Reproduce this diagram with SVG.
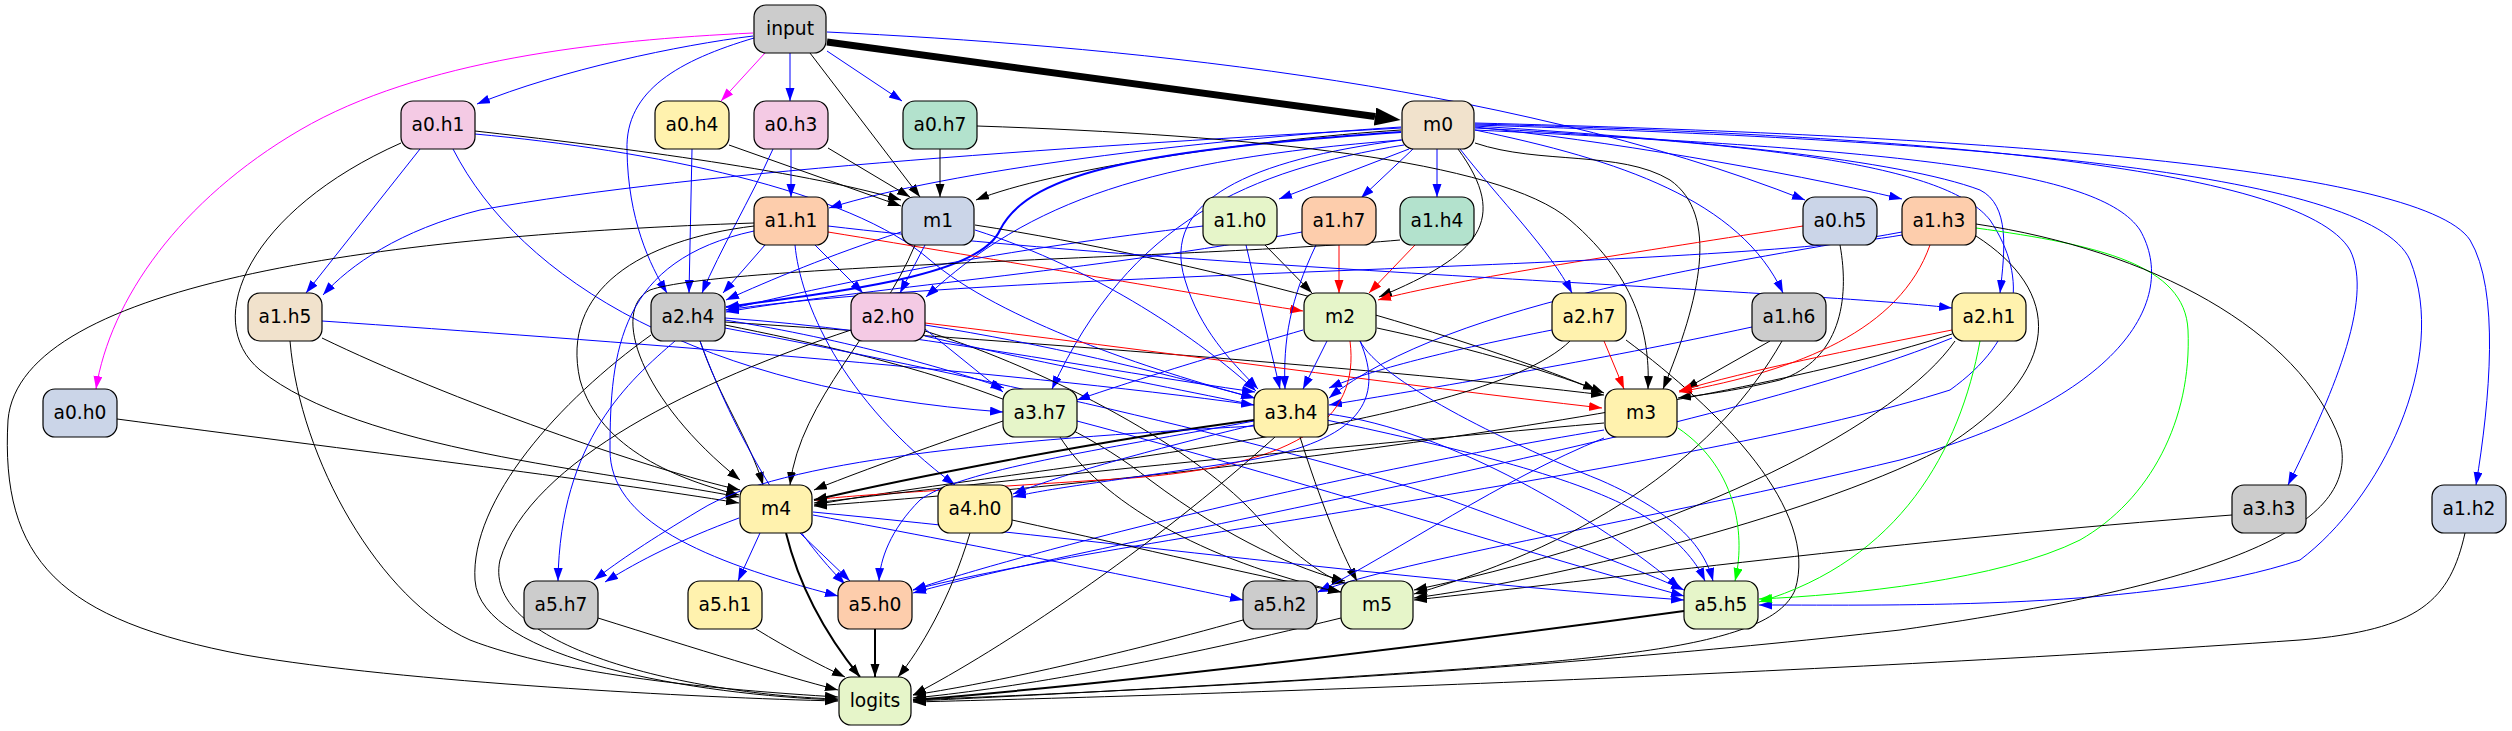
<svg xmlns="http://www.w3.org/2000/svg" width="2512" height="731" viewBox="0 0 2512 731">
<defs>
<marker id="mk" markerUnits="userSpaceOnUse" markerWidth="14" markerHeight="10" refX="13" refY="4.5" orient="auto"><path d="M0,0 L13,4.5 L0,9 z" fill="#000"/></marker>
<marker id="mb" markerUnits="userSpaceOnUse" markerWidth="14" markerHeight="10" refX="13" refY="4.5" orient="auto"><path d="M0,0 L13,4.5 L0,9 z" fill="#0000ff"/></marker>
<marker id="mr" markerUnits="userSpaceOnUse" markerWidth="14" markerHeight="10" refX="13" refY="4.5" orient="auto"><path d="M0,0 L13,4.5 L0,9 z" fill="#ff0000"/></marker>
<marker id="mg" markerUnits="userSpaceOnUse" markerWidth="14" markerHeight="10" refX="13" refY="4.5" orient="auto"><path d="M0,0 L13,4.5 L0,9 z" fill="#00ff00"/></marker>
<marker id="mm" markerUnits="userSpaceOnUse" markerWidth="14" markerHeight="10" refX="13" refY="4.5" orient="auto"><path d="M0,0 L13,4.5 L0,9 z" fill="#ff00ff"/></marker>
<marker id="mbig" markerUnits="userSpaceOnUse" markerWidth="28" markerHeight="20" refX="0" refY="9" orient="auto"><path d="M0,0 L26,9 L0,18 z" fill="#000"/></marker>
</defs>
<style>
.node rect{stroke:#000;stroke-width:1.2}
.node text{font-family:"DejaVu Sans","Liberation Sans",sans-serif;font-size:18.67px;text-anchor:middle;fill:#000}
#edges path{fill:none;stroke-width:1}
#edges .k{stroke:#000;marker-end:url(#mk)}
#edges .b{stroke:#0000ff;marker-end:url(#mb)}
#edges .r{stroke:#ff0000;marker-end:url(#mr)}
#edges .g{stroke:#00ff00;marker-end:url(#mg)}
#edges .m{stroke:#ff00ff;marker-end:url(#mm)}
#edges .w2{stroke-width:2}
#edges .big{stroke:#000;stroke-width:7;marker-end:url(#mbig)}
</style>
<rect width="2512" height="731" fill="#fff"/>
<g id="edges">
<path class="big" d="M827,42 L1375,116.5"/>
<path class="b" d="M753,36 C680,45 560,70 477,104"/>
<path class="m" d="M753,33 C600,40 420,60 300,130 C180,200 110,300 96,389"/>
<path class="m" d="M765,53 L721,101"/>
<path class="b" d="M790,53 L790,101"/>
<path class="b" d="M827,51 L902,101"/>
<path class="k" d="M810,53 L920,197"/>
<path class="b" d="M754,38 C680,60 625,90 627,150 C628,220 650,265 667,293"/>
<path class="b" d="M827,32 C1100,45 1500,80 1805,200"/>
<path class="k" d="M1401,130 C1250,140 1050,170 976,200"/>
<path class="b" d="M1401,127 C1200,140 950,170 829,208"/>
<path class="b" d="M1409,149 L1279,199"/>
<path class="b" d="M1413,149 L1361,198"/>
<path class="b" d="M1437,149 L1437,197"/>
<path class="b" d="M1475,127 C1600,140 1780,170 1902,199"/>
<path class="b" d="M1475,130 C1620,160 1740,200 1783,293"/>
<path class="b" d="M1460,149 C1500,200 1550,250 1572,293"/>
<path class="k" d="M1458,149 C1510,220 1480,255 1379,297"/>
<path class="k" d="M1475,143 C1540,165 1620,150 1670,180 C1720,215 1700,300 1663,389"/>
<path class="b" d="M1475,126 C1700,140 1900,160 1980,190 C2010,205 2005,250 2000,293"/>
<path class="b" d="M1401,128 C1100,145 700,170 480,210 C400,230 350,265 323,295"/>
<path class="b w2" d="M1401,132 C1150,150 1030,170 1000,230 C980,275 850,290 726,307"/>
<path class="b" d="M1401,140 C1150,160 1030,200 926,297"/>
<path class="b" d="M1404,145 C1250,170 1130,220 1052,389"/>
<path class="b" d="M1402,140 C1250,160 1160,200 1185,280 C1200,330 1230,360 1258,389"/>
<path class="b" d="M1475,124 C1900,135 2300,165 2350,250 C2375,300 2330,400 2288,485"/>
<path class="b" d="M1475,123 C1950,135 2420,165 2470,240 C2500,290 2490,400 2476,485"/>
<path class="b" d="M1475,125 C1950,140 2370,170 2410,260 C2450,360 2380,500 2300,560 C2150,610 1900,605 1759,605"/>
<path class="b" d="M1475,128 C1800,145 1950,170 1990,220 C2030,280 2020,340 1950,390 C1700,470 1100,540 913,590"/>
<path class="b" d="M1475,130 C1900,150 2100,170 2140,230 C2180,300 2120,400 1900,460 C1650,520 1400,560 1318,592"/>
<path class="k" d="M475,131 C600,145 800,170 901,200"/>
<path class="b" d="M475,134 C650,150 850,190 930,260 C1000,320 1150,370 1254,398"/>
<path class="b" d="M420,149 L306,293"/>
<path class="k" d="M401,143 C250,210 200,320 260,370 C360,450 600,470 739,497"/>
<path class="b" d="M453,149 C520,280 700,390 1003,412"/>
<path class="k" d="M729,145 L901,206"/>
<path class="b" d="M692,149 L689,293"/>
<path class="k" d="M828,148 L910,197"/>
<path class="b" d="M791,149 L791,197"/>
<path class="b" d="M773,149 C750,200 720,250 702,293"/>
<path class="k" d="M940,149 L940,197"/>
<path class="k" d="M977,126 C1250,135 1500,160 1570,220 C1640,280 1650,340 1648,389"/>
<path class="k" d="M117,419 C350,450 600,480 739,503"/>
<path class="r" d="M1803,226 C1650,250 1450,280 1378,300"/>
<path class="k" d="M1840,245 C1850,300 1840,360 1780,380 C1730,392 1700,395 1678,398"/>
<path class="r" d="M828,232 C1000,260 1200,295 1303,311"/>
<path class="b" d="M765,245 L723,293"/>
<path class="b" d="M815,245 L863,293"/>
<path class="b" d="M795,245 C800,300 840,400 955,485"/>
<path class="k" d="M754,226 C640,240 560,290 580,380 C600,450 680,480 739,495"/>
<path class="k" d="M754,223 C400,235 20,280 8,420 C0,560 60,620 245,655 C400,682 700,698 838,701"/>
<path class="k" d="M1265,245 L1312,293"/>
<path class="b" d="M1246,245 L1280,389"/>
<path class="b" d="M1203,226 C1000,250 850,280 726,310"/>
<path class="r" d="M1339,245 L1339,293"/>
<path class="b" d="M1316,245 C1290,300 1283,340 1285,389"/>
<path class="r" d="M1415,245 L1369,293"/>
<path class="k" d="M1400,240 C1200,258 720,265 650,290 C610,310 640,400 740,480"/>
<path class="b" d="M1902,235 C1700,270 1000,270 726,310"/>
<path class="b" d="M1902,232 C1750,260 1450,300 1329,398"/>
<path class="r" d="M1930,245 C1900,330 1800,370 1679,392"/>
<path class="g" d="M1976,228 C2100,245 2185,265 2188,330 C2192,420 2150,500 2080,540 C2000,580 1850,595 1759,599"/>
<path class="k" d="M1976,224 C2150,250 2300,330 2340,440 C2360,520 2250,580 1900,630 C1500,675 1100,692 913,700"/>
<path class="k" d="M1976,236 C2060,290 2070,370 1940,450 C1800,520 1550,580 1414,598"/>
<path class="k" d="M1770,341 L1685,389"/>
<path class="k" d="M1782,341 C1720,450 1600,540 1414,594"/>
<path class="b" d="M1752,327 C1600,360 1420,390 1329,405"/>
<path class="k" d="M322,338 C450,400 650,470 740,490"/>
<path class="k" d="M290,341 C300,460 380,600 470,640 C560,675 720,690 838,697"/>
<path class="b" d="M322,321 C600,340 1000,370 1254,405"/>
<path class="k" d="M975,225 C1200,260 1450,330 1596,390"/>
<path class="b" d="M901,232 C830,255 770,280 726,300"/>
<path class="b" d="M925,245 L900,293"/>
<path class="k" d="M915,245 C880,330 800,400 790,485"/>
<path class="b" d="M975,230 C1100,270 1200,340 1256,391"/>
<path class="b" d="M1302,232 C1100,270 850,290 726,312"/>
<path class="k" d="M700,341 C720,400 750,440 763,485"/>
<path class="k" d="M725,322 C1000,340 1400,370 1604,395"/>
<path class="k" d="M651,335 C560,400 470,500 475,580 C480,660 700,695 838,700"/>
<path class="k" d="M725,325 C900,360 1050,400 1150,480 C1230,540 1300,570 1345,581"/>
<path class="b" d="M725,320 C850,340 950,370 1004,388"/>
<path class="b" d="M725,318 C900,330 1100,370 1255,392"/>
<path class="b" d="M675,341 C630,380 560,440 558,581"/>
<path class="b" d="M700,341 C740,450 800,540 845,584"/>
<path class="b" d="M725,328 C1000,380 1300,450 1450,500 C1560,540 1640,570 1684,590"/>
<path class="r" d="M925,323 C1150,350 1400,385 1602,408"/>
<path class="k" d="M851,330 C700,380 530,460 500,560 C480,650 700,695 838,699"/>
<path class="k" d="M925,331 C1050,370 1200,450 1260,520 C1300,560 1330,580 1345,583"/>
<path class="b" d="M925,329 L1003,392"/>
<path class="b" d="M925,325 C1050,345 1150,370 1255,398"/>
<path class="b" d="M925,336 C1200,400 1550,450 1650,520 C1690,550 1700,570 1705,581"/>
<path class="r" d="M1604,341 L1624,389"/>
<path class="b" d="M1552,330 C1450,350 1370,370 1329,388"/>
<path class="k" d="M1570,341 C1480,430 1000,470 814,505"/>
<path class="k" d="M1626,340 C1720,410 1820,510 1795,590 C1770,650 1600,660 1300,680 C1100,692 980,698 913,701"/>
<path class="r" d="M1952,330 C1850,350 1750,370 1679,391"/>
<path class="k" d="M1952,334 C1750,400 1300,470 814,506"/>
<path class="k" d="M1955,341 C1900,420 1700,530 1414,590"/>
<path class="g" d="M1980,341 C1960,450 1900,560 1759,602"/>
<path class="b" d="M1952,338 C1700,440 1100,540 913,593"/>
<path class="b" d="M828,226 C1200,270 1800,290 1952,308"/>
<path class="b" d="M754,231 C620,260 610,350 610,450 C610,520 700,560 838,596"/>
<path class="b" d="M1303,330 C1200,360 1120,385 1077,400"/>
<path class="b" d="M1327,341 L1303,389"/>
<path class="k" d="M1377,328 C1480,350 1560,375 1604,393"/>
<path class="r" d="M1350,341 C1360,420 1300,470 1100,480 C950,490 850,495 814,500"/>
<path class="b" d="M1360,341 C1380,380 1500,440 1600,480 C1680,515 1705,550 1713,581"/>
<path class="b" d="M1360,341 C1385,400 1360,440 1250,460 C1120,480 1050,488 1013,497"/>
<path class="k" d="M1003,421 C920,450 850,475 814,490"/>
<path class="k" d="M1060,437 C1100,500 1200,560 1341,592"/>
<path class="b" d="M1077,421 C1300,480 1550,560 1684,596"/>
<path class="k w2" d="M1254,420 C1100,440 900,480 814,500"/>
<path class="k" d="M1275,437 C1150,550 1000,650 913,695"/>
<path class="k" d="M1300,437 C1320,500 1340,550 1357,581"/>
<path class="b" d="M1254,425 C1150,450 1060,475 1013,494"/>
<path class="b" d="M1254,421 C1100,450 960,470 920,500 C890,530 880,560 879,581"/>
<path class="b" d="M1254,426 C1000,440 780,460 700,510 C650,540 620,560 594,580"/>
<path class="b" d="M1328,414 C1450,430 1600,520 1680,588"/>
<path class="g" d="M1678,428 C1740,470 1745,540 1735,581"/>
<path class="k" d="M1604,423 C1300,450 1000,480 814,503"/>
<path class="b" d="M1604,430 C1300,480 1000,560 913,590"/>
<path class="b" d="M1604,438 C1500,480 1400,550 1318,592"/>
<path class="k" d="M2232,515 C1900,540 1600,580 1414,600"/>
<path class="k" d="M2465,533 C2450,600 2420,630 2300,640 C1800,675 1200,695 913,702"/>
<path class="k w2" d="M786,533 C800,590 830,640 860,677"/>
<path class="b" d="M739,518 C680,540 640,560 605,582"/>
<path class="b" d="M760,533 L738,581"/>
<path class="b" d="M800,533 L850,581"/>
<path class="b" d="M813,515 C1000,550 1150,580 1243,600"/>
<path class="b" d="M813,512 C1100,540 1400,580 1684,600"/>
<path class="k" d="M970,533 C950,600 920,650 898,677"/>
<path class="k" d="M1012,520 C1150,550 1250,575 1341,592"/>
<path class="k" d="M598,618 C700,650 780,675 838,690"/>
<path class="k" d="M756,629 C790,650 820,665 845,677"/>
<path class="k w2" d="M875,629 L875,677"/>
<path class="k" d="M1243,620 C1100,660 980,685 913,695"/>
<path class="k" d="M1341,618 C1150,665 1000,690 913,698"/>
<path class="k w2" d="M1684,611 C1400,650 1100,685 913,700"/>
</g>
<g id="n-input" class="node"><rect x="754" y="5" width="72" height="48" rx="12" fill="#cccccc"/><text x="790" y="35">input</text></g>
<g id="n-a0h1" class="node"><rect x="401" y="101" width="74" height="48" rx="12" fill="#f4cae4"/><text x="438" y="131">a0.h1</text></g>
<g id="n-a0h4" class="node"><rect x="655" y="101" width="74" height="48" rx="12" fill="#fff2ae"/><text x="692" y="131">a0.h4</text></g>
<g id="n-a0h3" class="node"><rect x="754" y="101" width="74" height="48" rx="12" fill="#f4cae4"/><text x="791" y="131">a0.h3</text></g>
<g id="n-a0h7" class="node"><rect x="903" y="101" width="74" height="48" rx="12" fill="#b3e2cd"/><text x="940" y="131">a0.h7</text></g>
<g id="n-m0" class="node"><rect x="1402" y="101" width="72" height="48" rx="12" fill="#f1e2cc"/><text x="1438" y="131">m0</text></g>
<g id="n-a1h1" class="node"><rect x="754" y="197" width="74" height="48" rx="12" fill="#fdcdac"/><text x="791" y="227">a1.h1</text></g>
<g id="n-m1" class="node"><rect x="902" y="197" width="72" height="48" rx="12" fill="#cbd5e8"/><text x="938" y="227">m1</text></g>
<g id="n-a1h0" class="node"><rect x="1203" y="197" width="74" height="48" rx="12" fill="#e6f5c9"/><text x="1240" y="227">a1.h0</text></g>
<g id="n-a1h7" class="node"><rect x="1302" y="197" width="74" height="48" rx="12" fill="#fdcdac"/><text x="1339" y="227">a1.h7</text></g>
<g id="n-a1h4" class="node"><rect x="1400" y="197" width="74" height="48" rx="12" fill="#b3e2cd"/><text x="1437" y="227">a1.h4</text></g>
<g id="n-a0h5" class="node"><rect x="1803" y="197" width="74" height="48" rx="12" fill="#cbd5e8"/><text x="1840" y="227">a0.h5</text></g>
<g id="n-a1h3" class="node"><rect x="1902" y="197" width="74" height="48" rx="12" fill="#fdcdac"/><text x="1939" y="227">a1.h3</text></g>
<g id="n-a1h5" class="node"><rect x="248" y="293" width="74" height="48" rx="12" fill="#f1e2cc"/><text x="285" y="323">a1.h5</text></g>
<g id="n-a2h4" class="node"><rect x="651" y="293" width="74" height="48" rx="12" fill="#cccccc"/><text x="688" y="323">a2.h4</text></g>
<g id="n-a2h0" class="node"><rect x="851" y="293" width="74" height="48" rx="12" fill="#f4cae4"/><text x="888" y="323">a2.h0</text></g>
<g id="n-m2" class="node"><rect x="1304" y="293" width="72" height="48" rx="12" fill="#e6f5c9"/><text x="1340" y="323">m2</text></g>
<g id="n-a2h7" class="node"><rect x="1552" y="293" width="74" height="48" rx="12" fill="#fff2ae"/><text x="1589" y="323">a2.h7</text></g>
<g id="n-a1h6" class="node"><rect x="1752" y="293" width="74" height="48" rx="12" fill="#cccccc"/><text x="1789" y="323">a1.h6</text></g>
<g id="n-a2h1" class="node"><rect x="1952" y="293" width="74" height="48" rx="12" fill="#fff2ae"/><text x="1989" y="323">a2.h1</text></g>
<g id="n-a0h0" class="node"><rect x="43" y="389" width="74" height="48" rx="12" fill="#cbd5e8"/><text x="80" y="419">a0.h0</text></g>
<g id="n-a3h7" class="node"><rect x="1003" y="389" width="74" height="48" rx="12" fill="#e6f5c9"/><text x="1040" y="419">a3.h7</text></g>
<g id="n-a3h4" class="node"><rect x="1254" y="389" width="74" height="48" rx="12" fill="#fff2ae"/><text x="1291" y="419">a3.h4</text></g>
<g id="n-m3" class="node"><rect x="1605" y="389" width="72" height="48" rx="12" fill="#fff2ae"/><text x="1641" y="419">m3</text></g>
<g id="n-m4" class="node"><rect x="740" y="485" width="72" height="48" rx="12" fill="#fff2ae"/><text x="776" y="515">m4</text></g>
<g id="n-a4h0" class="node"><rect x="938" y="485" width="74" height="48" rx="12" fill="#fff2ae"/><text x="975" y="515">a4.h0</text></g>
<g id="n-a3h3" class="node"><rect x="2232" y="485" width="74" height="48" rx="12" fill="#cccccc"/><text x="2269" y="515">a3.h3</text></g>
<g id="n-a1h2" class="node"><rect x="2432" y="485" width="74" height="48" rx="12" fill="#cbd5e8"/><text x="2469" y="515">a1.h2</text></g>
<g id="n-a5h7" class="node"><rect x="524" y="581" width="74" height="48" rx="12" fill="#cccccc"/><text x="561" y="611">a5.h7</text></g>
<g id="n-a5h1" class="node"><rect x="688" y="581" width="74" height="48" rx="12" fill="#fff2ae"/><text x="725" y="611">a5.h1</text></g>
<g id="n-a5h0" class="node"><rect x="838" y="581" width="74" height="48" rx="12" fill="#fdcdac"/><text x="875" y="611">a5.h0</text></g>
<g id="n-a5h2" class="node"><rect x="1243" y="581" width="74" height="48" rx="12" fill="#cccccc"/><text x="1280" y="611">a5.h2</text></g>
<g id="n-m5" class="node"><rect x="1341" y="581" width="72" height="48" rx="12" fill="#e6f5c9"/><text x="1377" y="611">m5</text></g>
<g id="n-a5h5" class="node"><rect x="1684" y="581" width="74" height="48" rx="12" fill="#e6f5c9"/><text x="1721" y="611">a5.h5</text></g>
<g id="n-logits" class="node"><rect x="839" y="677" width="72" height="48" rx="12" fill="#e6f5c9"/><text x="875" y="707">logits</text></g>
</svg>
